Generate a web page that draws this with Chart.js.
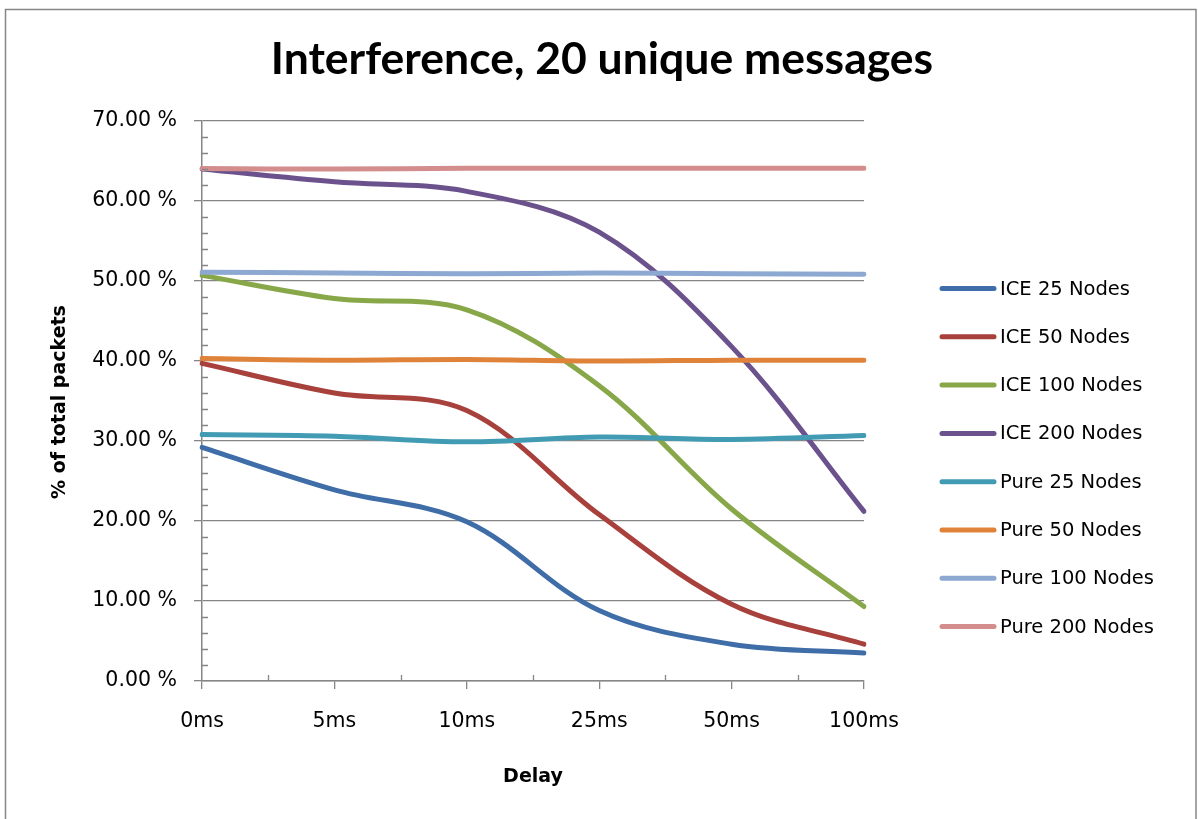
<!DOCTYPE html>
<html>
<head>
<meta charset="utf-8">
<script src="https://cdn.jsdelivr.net/npm/chart.js@4.4.1/dist/chart.umd.min.js"></script>
<style>
  html, body { margin: 0; padding: 0; background: #fff; }
  #wrap { width: 1198px; height: 819px; position: relative; }
</style>
</head>
<body>
<div id="wrap"><canvas id="c" width="1198" height="819"></canvas></div>
<script>
const chartTitle = 'Interference, 20 unique messages';
const xTitle = 'Delay';
const yTitle = '% of total packets';
const categories = ['0ms', '5ms', '10ms', '25ms', '50ms', '100ms'];
const yTicks = [0, 10, 20, 30, 40, 50, 60, 70];

const seriesNames = ['ICE 25 Nodes', 'ICE 50 Nodes', 'ICE 100 Nodes', 'ICE 200 Nodes',
                     'Pure 25 Nodes', 'Pure 50 Nodes', 'Pure 100 Nodes', 'Pure 200 Nodes'];
const seriesColors = ['#3F6DA8', '#A8403C', '#87A748', '#6B528D',
                      '#409BB3', '#E0833A', '#8DA9D2', '#D48D8D'];

const ice25   = [29.2, 23.9, 19.9, 8.8, 4.6, 3.5];
const ice50   = [39.7, 36.0, 33.8, 20.8, 9.6, 4.6];
const ice100  = [50.7, 47.8, 46.4, 36.9, 21.5, 9.3];
const ice200  = [64.0, 62.4, 61.2, 56.1, 41.8, 21.2];
const pure25  = [30.8, 30.6, 29.9, 30.5, 30.2, 30.7];
const pure50  = [40.3, 40.1, 40.2, 40.0, 40.1, 40.1];
const pure100 = [51.1, 51.0, 50.9, 51.0, 50.9, 50.85];
const pure200 = [64.05, 64.0, 64.1, 64.1, 64.1, 64.1];

const seriesValues = [ice25, ice50, ice100, ice200, pure25, pure50, pure100, pure200];

const GRID = '#868686';
const BODY_FONT = 'DejaVu Sans';

const datasets = seriesValues.map((vals, i) => ({
  label: seriesNames[i],
  data: vals,
  borderColor: seriesColors[i],
  backgroundColor: seriesColors[i],
  borderWidth: 5,
  borderCapStyle: 'round',
  borderJoinStyle: 'round',
  pointRadius: 0,
  pointHoverRadius: 0,
  tension: 0.35,
  fill: false,
  order: -i
}));

const decorPlugin = {
  id: 'decor',
  beforeDraw(chart) {
    const ctx = chart.ctx;
    ctx.save();
    ctx.fillStyle = '#fff';
    ctx.fillRect(0, 0, chart.width, chart.height);
    ctx.strokeStyle = GRID;
    ctx.lineWidth = 1.5;
    ctx.strokeRect(5.5, 9.5, 1190.5, 840);
    ctx.restore();
  },
  afterDraw(chart) {
    const ctx = chart.ctx;
    const xs = chart.scales.x, ys = chart.scales.y;
    const area = chart.chartArea;
    ctx.save();
    // minor ticks
    ctx.strokeStyle = GRID;
    ctx.lineWidth = 1.3;
    ctx.beginPath();
    for (let i = 0; i < categories.length - 1; i++) {
      const x = Math.round((xs.getPixelForValue(i) + xs.getPixelForValue(i + 1)) / 2) + 0.5;
      ctx.moveTo(x, area.bottom);
      ctx.lineTo(x, area.bottom - 6);
    }
    for (let v = 2; v < 70; v += 2) {
      if (v % 10 === 0) continue;
      const y = Math.round(ys.getPixelForValue(v)) + 0.5;
      ctx.moveTo(area.left, y);
      ctx.lineTo(area.left + 6, y);
    }
    ctx.stroke();

    // title
    ctx.fillStyle = '#000';
    ctx.textAlign = 'center';
    ctx.textBaseline = 'alphabetic';
    let size = 44;
    ctx.font = 'bold ' + size + 'px Lato';
    const w = ctx.measureText(chartTitle).width;
    size = size * 662 / w;
    ctx.font = 'bold ' + size.toFixed(1) + 'px Lato';
    ctx.fillText(chartTitle, 602, 74);

    // axis titles
    ctx.font = 'bold 19px "' + BODY_FONT + '"';
    ctx.textBaseline = 'middle';
    ctx.fillText(xTitle, 533, 777);
    ctx.save();
    ctx.translate(60, 402);
    ctx.rotate(-Math.PI / 2);
    ctx.fillText(yTitle, 0, 0);
    ctx.restore();

    // legend
    ctx.font = '19.5px "' + BODY_FONT + '"';
    ctx.textAlign = 'left';
    ctx.textBaseline = 'middle';
    ctx.lineCap = 'round';
    for (let i = 0; i < seriesNames.length; i++) {
      const y = 288.5 + i * 48.3;
      ctx.strokeStyle = seriesColors[i];
      ctx.lineWidth = 5;
      ctx.beginPath();
      ctx.moveTo(942, y);
      ctx.lineTo(994, y);
      ctx.stroke();
      ctx.fillStyle = '#000';
      ctx.fillText(seriesNames[i], 1000, y + 1);
    }
    ctx.restore();
  }
};

new Chart(document.getElementById('c'), {
  type: 'line',
  data: { labels: categories, datasets },
  options: {
    responsive: false,
    animation: false,
    devicePixelRatio: 1,
    layout: { padding: { left: 0, top: 121, right: 334, bottom: 0 } },
    plugins: {
      legend: { display: false },
      title: { display: false },
      tooltip: { enabled: false }
    },
    scales: {
      x: {
        type: 'category',
        offset: false,
        afterFit(scale) { scale.height = 138; },
        grid: { display: true, drawOnChartArea: false, drawTicks: true, tickLength: 8, color: GRID, lineWidth: 1.3 },
        border: { display: true, color: GRID, width: 1.5 },
        ticks: { color: '#000', font: { family: BODY_FONT, size: 20.5 }, padding: 20, maxRotation: 0, autoSkip: false }
      },
      y: {
        min: 0, max: 70,
        afterFit(scale) { scale.width = 202; },
        afterBuildTicks(scale) { scale.ticks = yTicks.map(v => ({ value: v })); },
        grid: { display: true, drawTicks: true, tickLength: 8, color: GRID, lineWidth: 1.3 },
        border: { display: true, color: GRID, width: 1.5 },
        ticks: {
          color: '#000',
          font: { family: BODY_FONT, size: 20.5 },
          padding: 17,
          callback: (v) => Number(v).toFixed(2) + ' %'
        }
      }
    }
  },
  plugins: [decorPlugin]
});
</script>
</body>
</html>
